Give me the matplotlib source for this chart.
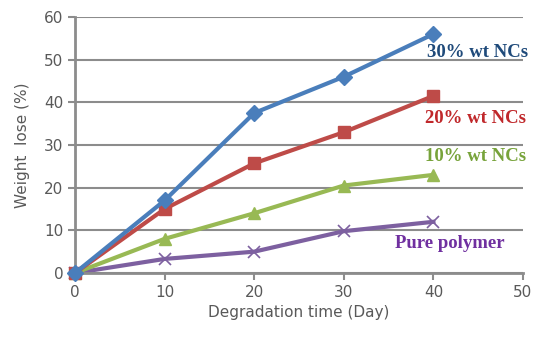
import numpy as np
import matplotlib.pyplot as plt

# data
days = [0, 10, 20, 30, 40]
nc30 = [0, 17, 37.5, 46, 56]
nc20 = [0, 15, 25.7, 33, 41.5]
nc10 = [0, 8, 14, 20.5, 23]
pure = [0, 3.3, 5, 9.8, 12]
labels = ["30% wt NCs", "20% wt NCs", "10% wt NCs", "Pure polymer"]

fig = plt.figure(figsize=(5.42, 3.42), dpi=100)
ax = fig.add_axes([75/542, 1-273/342, 448/542, 256/342])

ax.plot(days, nc30, color='#4a7ebb', lw=3, marker='D', ms=8, zorder=5)
ax.plot(days, nc20, color='#be4b48', lw=3, marker='s', ms=9, zorder=4)
ax.plot(days, nc10, color='#98b954', lw=3, marker='^', ms=8, zorder=3)
ax.plot(days, pure, color='#7d60a0', lw=3, marker='x', ms=9, mew=1.2, zorder=2)

#curve labels
tkw = dict(fontsize=13.5, fontweight='bold', family='Liberation Serif', va='center')
ax.text(39.3, 51.6, labels[0], color='#1f4a7a', **tkw)
ax.text(39.1, 36.3, labels[1], color='#c0282b', **tkw)
ax.text(39.1, 27.2, labels[2], color='#77a33a', **tkw)
ax.text(35.7, 7.0, labels[3], color='#7030a0', **tkw)

ax.set_xlim(0, 50)
ax.set_ylim(0, 60)
ax.set_xticks(np.arange(0, 51, 10))
ax.set_yticks(np.arange(0, 61, 10))
ax.grid(axis='y', color='#8c8c8c', lw=1.5)
ax.set_axisbelow(True)
for s in ['top', 'right']:
    ax.spines[s].set_visible(False)
for s in ['left', 'bottom']:
    ax.spines[s].set_color('#8c8c8c')
    ax.spines[s].set_linewidth(2)
ax.tick_params(colors='#8c8c8c', labelcolor='#595959', labelsize=11, length=5, width=1.5)
ax.set_xlabel("Degradation time (Day)", color='#595959', fontsize=11)
ax.set_ylabel("Weight  lose (%)", color='#595959', fontsize=11, labelpad=10)
for l in ax.lines:
    l.set_clip_on(False)

plt.savefig('out.png', dpi=100)
